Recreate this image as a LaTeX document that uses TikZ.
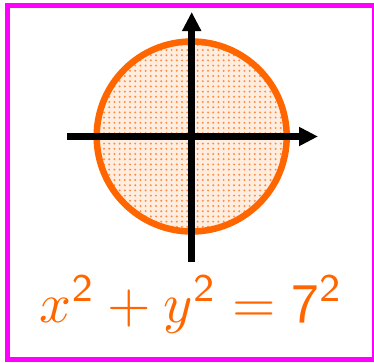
\documentclass[tikz,border=0pt]{standalone}
\usepackage{graphicx}
\usetikzlibrary{arrows.meta,patterns.meta}
\definecolor{eqorange}{RGB}{255,102,0}
\definecolor{framemag}{RGB}{255,0,255}
\tikzdeclarepattern{
  name=odots,
  type=uncolored,
  bottom left={(-2.6pt,-2.6pt)},
  top right={(2.6pt,2.6pt)},
  tile size={(5.2pt,5.2pt)},
  code={\fill (0pt,0pt) circle[radius=1.1pt];}
}
\tikzset{
  frame/.style={draw=framemag, line width=5pt},
  disc/.style={draw=eqorange, line width=6.5pt},
  discdots/.style={pattern=odots, pattern color=eqorange!75},
  axis/.style={line width=6.5pt, -{Triangle[length=19pt,width=18pt]}},
  eq/.style={text=eqorange, inner sep=0pt}
}
\begin{document}
\begin{tikzpicture}[x=1pt,y=-1pt]
\useasboundingbox (0,0) rectangle (374,362);
\draw[frame] (7.5,5.5) rectangle (374,359);
\coordinate (o) at (191.7,136.5);
\fill[eqorange!12] (o) circle (95);
\fill[discdots] (o) circle (95);
\draw[disc] (o) circle (95);
\coordinate (xl) at (67,136.5);
\coordinate (xr) at (318,136.5);
\coordinate (yb) at (191.7,262);
\coordinate (yt) at (191.7,12);
\draw[axis] (xl) -- (xr);
\draw[axis] (yb) -- (yt);
\node[eq, anchor=base] (eqn) at (191.5,322) {\resizebox{303pt}{!}{$x^{\mathsf{2}}+y^{\mathsf{2}}=\mathsf{7}^{\mathsf{2}}$}};
\end{tikzpicture}
\end{document}
